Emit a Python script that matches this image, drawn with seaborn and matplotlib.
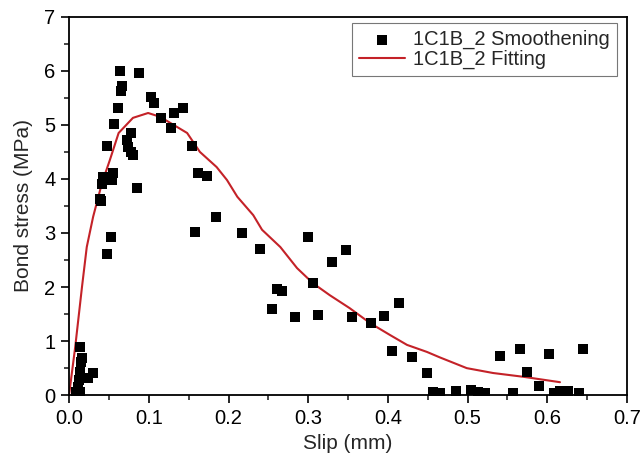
import matplotlib
matplotlib.use("Agg")
import matplotlib.pyplot as plt
import seaborn as sns
import pandas as pd
from matplotlib.ticker import MultipleLocator

# Smoothened measurement points (slip mm, bond stress MPa)
slip_pts = [0.008, 0.014, 0.011, 0.012, 0.014, 0.015, 0.016, 0.014, 0.024, 0.030,
            0.039, 0.040, 0.041, 0.043, 0.047, 0.048, 0.052, 0.054, 0.055, 0.056,
            0.061, 0.064, 0.065, 0.066, 0.073, 0.074, 0.077, 0.077, 0.080, 0.085,
            0.088, 0.103, 0.107, 0.115, 0.128, 0.132, 0.143, 0.154, 0.158, 0.162,
            0.173, 0.184, 0.217, 0.240, 0.255, 0.261, 0.267, 0.284, 0.300, 0.306,
            0.312, 0.330, 0.348, 0.355, 0.379, 0.395, 0.405, 0.414, 0.430, 0.449,
            0.457, 0.465, 0.485, 0.504, 0.513, 0.522, 0.541, 0.557, 0.566, 0.575,
            0.590, 0.602, 0.609, 0.616, 0.626, 0.640, 0.645]
stress_pts = [0.06, 0.06, 0.15, 0.28, 0.43, 0.61, 0.68, 0.89, 0.31, 0.41,
              3.63, 3.60, 3.90, 4.04, 4.61, 2.61, 2.92, 3.98, 4.11, 5.02,
              5.31, 6.00, 5.63, 5.72, 4.72, 4.60, 4.85, 4.50, 4.44, 3.84,
              5.96, 5.52, 5.41, 5.13, 4.94, 5.22, 5.31, 4.61, 3.02, 4.11,
              4.06, 3.30, 3.00, 2.70, 1.59, 1.96, 1.93, 1.45, 2.93, 2.07,
              1.48, 2.46, 2.69, 1.45, 1.33, 1.46, 0.81, 1.70, 0.70, 0.41,
              0.06, 0.04, 0.07, 0.09, 0.06, 0.04, 0.72, 0.04, 0.85, 0.43,
              0.17, 0.76, 0.04, 0.07, 0.07, 0.04, 0.85]

# Fitting curve
slip_fit = [0.000, 0.0075, 0.016, 0.022, 0.030, 0.041, 0.051, 0.062, 0.080, 0.099,
            0.114, 0.131, 0.148, 0.164, 0.185, 0.198, 0.211, 0.231, 0.242, 0.265,
            0.286, 0.306, 0.327, 0.352, 0.378, 0.403, 0.424, 0.449, 0.465, 0.499,
            0.532, 0.570, 0.616]
stress_fit = [0.03, 0.89, 2.00, 2.74, 3.30, 3.92, 4.35, 4.85, 5.13, 5.22,
              5.15, 5.00, 4.85, 4.50, 4.22, 3.98, 3.67, 3.33, 3.06, 2.74,
              2.35, 2.07, 1.85, 1.61, 1.33, 1.11, 0.93, 0.80, 0.70, 0.50,
              0.41, 0.34, 0.24]

pts = pd.DataFrame({"slip": slip_pts, "stress": stress_pts})
fit = pd.DataFrame({"slip": slip_fit, "stress": stress_fit})

sns.set_style("ticks")
plt.rcParams["font.family"] = ["Liberation Sans", "DejaVu Sans"]

fig = plt.figure(figsize=(6.41, 4.66), dpi=100)
ax = fig.add_axes([0.108, 0.152, 0.870, 0.812])

sns.scatterplot(data=pts, x="slip", y="stress", ax=ax, marker="s", s=55,
                color="black", edgecolor="black", linewidth=0,
                label="1C1B_2 Smoothening", zorder=3)
sns.lineplot(data=fit, x="slip", y="stress", ax=ax, sort=False,
             color="#c42228", linewidth=1.5, label="1C1B_2 Fitting", zorder=2)

ax.set_xlim(0, 0.7)
ax.set_ylim(0, 7)
ax.xaxis.set_major_locator(MultipleLocator(0.1))
ax.xaxis.set_minor_locator(MultipleLocator(0.05))
ax.yaxis.set_major_locator(MultipleLocator(1))
ax.yaxis.set_minor_locator(MultipleLocator(0.5))
ax.xaxis.set_major_formatter(matplotlib.ticker.FormatStrFormatter("%.1f"))
ax.tick_params(which="major", direction="out", length=6, width=1.2,
               labelsize=14.5, colors="black", top=False, right=False, pad=4)
ax.tick_params(which="minor", direction="out", length=3.5, width=1.2,
               top=False, right=False)
for sp in ax.spines.values():
    sp.set_visible(True)
    sp.set_linewidth(1.3)
    sp.set_color("black")

ax.set_xlabel("Slip (mm)", fontsize=15, labelpad=4)
ax.set_ylabel("Bond stress (MPa)", fontsize=15, labelpad=8)

leg = ax.legend(loc="upper right", fontsize=14.5, frameon=True, fancybox=False,
                edgecolor="#555555", borderpad=0.35, handlelength=2.3,
                handletextpad=0.4, labelspacing=0.05, borderaxespad=0,
                bbox_to_anchor=(0.982, 0.984))
leg.get_frame().set_linewidth(0.8)

fig.savefig("out.png", dpi=100)
